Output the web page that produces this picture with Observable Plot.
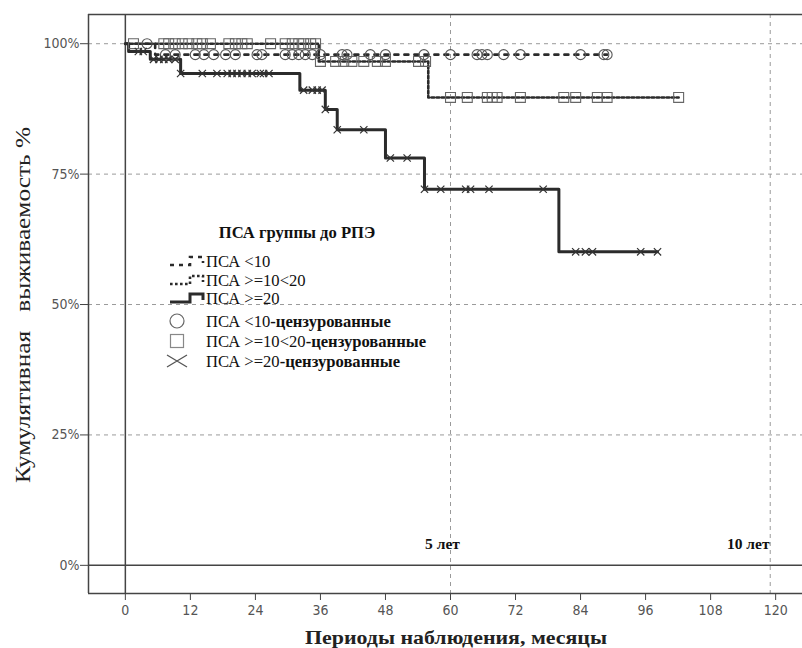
<!DOCTYPE html>
<html><head><meta charset="utf-8">
<script src="https://cdn.jsdelivr.net/npm/d3@7"></script>
<script src="https://cdn.jsdelivr.net/npm/@observablehq/plot@0.6"></script>
<style>body{margin:0;overflow:hidden;background:#fff}</style>
</head><body><div id="chart"></div>
<script>
// ---- data ----
const groups = ["ПСА <10", "ПСА >=10<20", "ПСА >=20"];
const censorSuffix = "-цензурованные";
const legendTitle = "ПСА группы до РПЭ";
const xTitle = "Периоды наблюдения, месяцы";
const yTitle = "Кумулятивная   выживаемость %";
const xTicks = [0, 12, 24, 36, 48, 60, 72, 84, 96, 108, 120];
const yTicks = [0, 0.25, 0.5, 0.75, 1];
const refMonths = [60, 119];
const refLabels = ["5 лет", "10 лет"];

// step functions (time of event, survival after event)
const lt10Time = [0, 5.5, 88.9];
const lt10Surv = [1, 0.979, 0.979];
const midTime = [0, 35.7, 55.9, 102.1];
const midSurv = [1, 0.966, 0.897, 0.897];
const ge20Time = [0, 0.6, 4.6, 10.2, 32.2, 36.9, 39.1, 48.0, 55.2, 80.0, 98.2];
const ge20Surv = [1, 0.985, 0.970, 0.943, 0.911, 0.874, 0.835, 0.781, 0.721, 0.601, 0.601];

// censored times
const lt10Cens = [4.0, 7.4, 9.2, 12.9, 14.5, 16.3, 18.5, 20.3, 24.3, 25.2, 29.5, 30.8, 32.0, 33.2, 34.5, 36.0,
  40.0, 40.9, 45.2, 48.0, 55.1, 60.0, 64.9, 65.8, 66.8, 69.8, 72.9, 84.0, 88.3, 88.9];
const midCens = [1.5, 7.1, 8.0, 9.2, 10.5, 11.7, 13.2, 14.2, 15.7, 19.1, 20.3, 21.5, 22.5, 26.8, 29.5, 30.8, 32.0, 32.9, 34.2, 35.1,
  36.0, 38.8, 40.3, 41.8, 44.0, 46.5, 48.0, 54.1, 55.4,
  60.0, 63.1, 66.8, 67.7, 68.6, 72.9, 80.9, 83.1, 87.1, 88.9, 102.1];
const ge20Cens = [2.4, 3.3, 5.2, 6.2, 7.1, 8.0, 9.2, 10.2, 14.2, 16.9, 18.8, 19.7, 20.6, 21.5, 22.5, 23.4, 24.9, 25.5, 26.5,
  32.9, 34.5, 35.4, 36.3, 36.9, 39.1, 44.0, 48.9, 52.0, 55.2, 58.2, 62.8, 63.7, 67.1, 77.1, 83.1, 84.9, 86.2, 95.1, 98.2];

// ---- build tables ----
const steps = (t, s) => t.map((d, i) => ({month: d, surv: s[i]}));
const survAt = (t, s, m) => { let v = s[0]; t.forEach((d, i) => { if (d <= m) v = s[i]; }); return v; };
const cens = (c, t, s) => c.map(m => ({month: m, surv: survAt(t, s, m)}));

const lt10Line = steps(lt10Time, lt10Surv), midLine = steps(midTime, midSurv), ge20Line = steps(ge20Time, ge20Surv);
const lt10Pts = cens(lt10Cens, lt10Time, lt10Surv), midPts = cens(midCens, midTime, midSurv), ge20Pts = cens(ge20Cens, ge20Time, ge20Surv);

const xDom = [-6.8, 126.8], yDom = [-0.054, 1.056];
const refs = refMonths.map((m, i) => ({month: m, label: refLabels[i]}));
const lineColor = "#2b2b2b";

const chart = Plot.plot({
  width: 802, height: 648,
  marginLeft: 88, marginTop: 14, marginBottom: 55, marginRight: 0,
  style: {fontFamily: "'DejaVu Sans Condensed','DejaVu Sans',sans-serif", fontStretch: "condensed", fontSize: "14px", color: "#555", background: "#fff"},
  x: {domain: xDom, range: [88, 812]},
  y: {domain: yDom},
  marks: [
    Plot.gridY(yTicks.filter(d => d > 0), {stroke: "#9a9a9a", strokeOpacity: 1, strokeDasharray: "4,4"}),
    Plot.ruleX(refs, {x: "month", stroke: "#9a9a9a", strokeDasharray: "4,4"}),
    Plot.ruleX([0], {stroke: "#444", strokeWidth: 1.5}),
    Plot.ruleY([0], {stroke: "#444", strokeWidth: 1.5}),
    Plot.ruleY([yDom[1], yDom[0]], {stroke: "#444", strokeWidth: 1.5}),
    Plot.ruleX([xDom[0]], {stroke: "#444", strokeWidth: 1.5}),
    Plot.axisY({ticks: yTicks, tickFormat: d => Math.round(d * 100) + "%", tickSize: 8, tickPadding: 1, label: null, stroke: "#444"}),
    Plot.axisX({ticks: xTicks, tickSize: 7, tickPadding: 5, label: null, stroke: "#444"}),
    Plot.line(lt10Line, {x: "month", y: "surv", curve: "step-after", stroke: lineColor, strokeWidth: 2.6, strokeDasharray: "4,6"}),
    Plot.line(midLine, {x: "month", y: "surv", curve: "step-after", stroke: lineColor, strokeWidth: 2.6, strokeDasharray: "2.6,2.4"}),
    Plot.line(ge20Line, {x: "month", y: "surv", curve: "step-after", stroke: lineColor, strokeWidth: 3}),
    Plot.dot(lt10Pts, {x: "month", y: "surv", symbol: "circle", r: 5, stroke: "#555", strokeWidth: 1.1, fill: "none"}),
    Plot.dot(midPts, {x: "month", y: "surv", symbol: "square", r: 5.6, stroke: "#666", strokeWidth: 1.1, fill: "none"}),
    Plot.dot(ge20Pts, {x: "month", y: "surv", symbol: "times", r: 3.4, stroke: "#333", strokeWidth: 1.2}),
    Plot.text([refs[0]], {x: "month", text: "label", frameAnchor: "bottom", dy: -45, dx: -8, fontFamily: "'Liberation Serif',serif", fontWeight: "bold", fontSize: 15.5, fill: "#111"}),
    Plot.text([refs[1]], {x: "month", text: "label", frameAnchor: "bottom", dy: -45, dx: -22, fontFamily: "'Liberation Serif',serif", fontWeight: "bold", fontSize: 15.5, fill: "#111"})
  ]
});
document.getElementById("chart").appendChild(chart);

// ---- axis titles & legend ----
const svg = d3.select(chart);
svg.append("text").attr("x", 456).attr("y", 644).attr("text-anchor", "middle")
  .attr("font-family", "'Liberation Serif',serif").attr("font-size", 19).attr("font-weight", "bold")
  .attr("fill", "#222").attr("textLength", 302).attr("lengthAdjust", "spacingAndGlyphs").text(xTitle);
svg.append("text").attr("transform", "translate(30,305) rotate(-90)").attr("text-anchor", "middle")
  .attr("font-family", "'Liberation Serif',serif").attr("font-size", 20).attr("xml:space", "preserve")
  .attr("fill", "#222").attr("textLength", 356).attr("lengthAdjust", "spacingAndGlyphs").text(yTitle);

const lg = svg.append("g").attr("font-family", "'Liberation Serif',serif").attr("font-size", 16.6)
  .attr("fill", "#111").attr("text-anchor", "start");
lg.append("text").attr("x", 297).attr("y", 232.5).attr("dy", "0.35em").attr("text-anchor", "middle")
  .attr("font-weight", "bold").text(legendTitle);
const rowY = [261, 280, 298, 321, 341, 361];
const dashes = ["4,5", "2.6,2.4", null];
groups.forEach((g, i) => {
  const y = rowY[i];
  const p = lg.append("path").attr("d", `M170,${y + 4}H190V${y - 4}H203V${y + 2}`)
    .attr("fill", "none").attr("stroke", lineColor).attr("stroke-width", i === 2 ? 3 : 2.6);
  if (dashes[i]) p.attr("stroke-dasharray", dashes[i]);
  lg.append("text").attr("x", 206).attr("y", y).attr("dy", "0.35em").text(g);
});
groups.forEach((g, i) => {
  const y = rowY[i + 3];
  if (i === 0) lg.append("circle").attr("cx", 177).attr("cy", y).attr("r", 7).attr("fill", "none").attr("stroke", "#666").attr("stroke-width", 1.2);
  if (i === 1) lg.append("rect").attr("x", 170.5).attr("y", y - 6.5).attr("width", 13).attr("height", 13).attr("fill", "none").attr("stroke", "#888").attr("stroke-width", 1.2);
  if (i === 2) lg.append("path").attr("d", `M167,${y - 6}L187,${y + 6}M167,${y + 6}L187,${y - 6}`).attr("stroke", "#555").attr("stroke-width", 1.3);
  const t = lg.append("text").attr("x", 206).attr("y", y).attr("dy", "0.35em");
  t.append("tspan").text(g);
  t.append("tspan").attr("font-weight", "bold").text(censorSuffix);
});
</script></body></html>
